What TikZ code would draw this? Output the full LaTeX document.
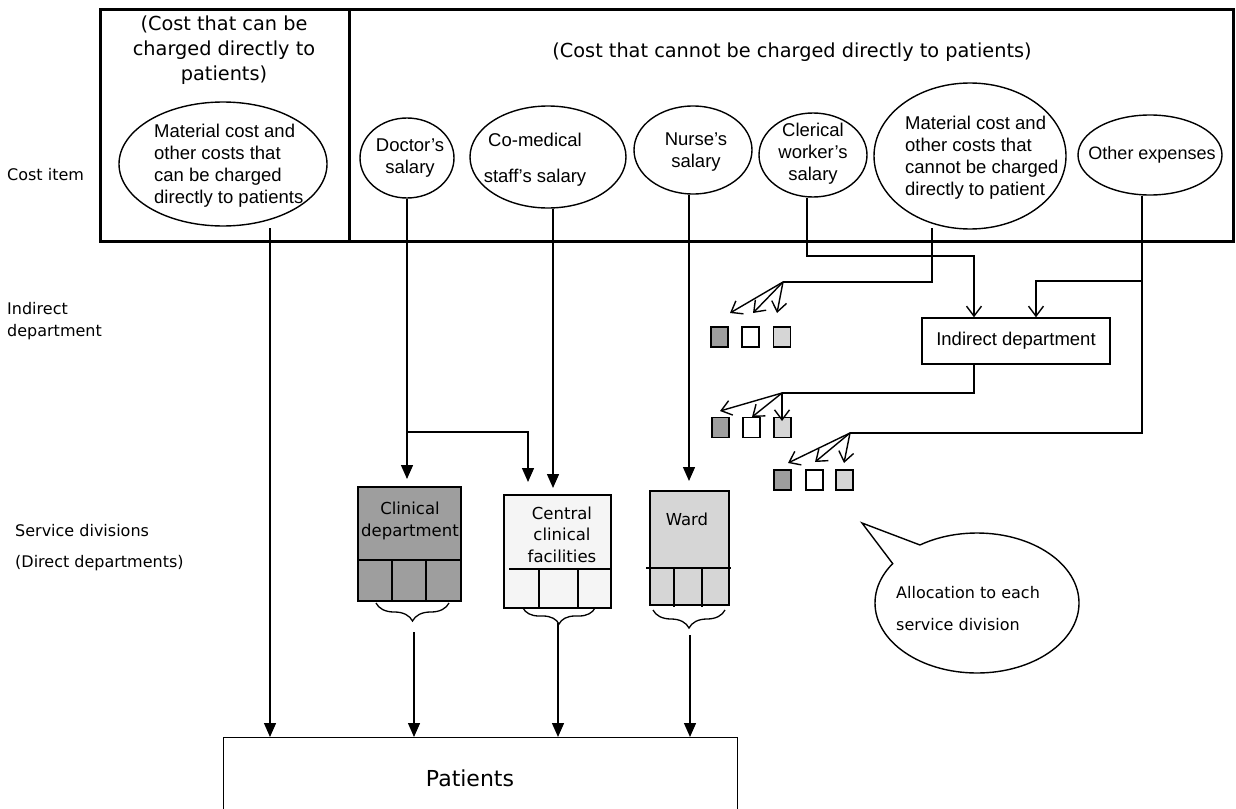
\documentclass[tikz,border=0pt]{standalone}
\usepackage{fontspec}
\setmainfont{DejaVu Sans}
\newfontfamily\arialf{Liberation Sans}
\usetikzlibrary{arrows.meta,shapes.geometric,decorations.pathreplacing}
\definecolor{dkg}{gray}{0.62}
\definecolor{ltg}{gray}{0.84}
\definecolor{vlg}{gray}{0.96}
\begin{document}
\begin{tikzpicture}[x=1pt,y=-1pt,
  ln/.style={line width=1.4pt},
  arr/.style={ln,-{Triangle[width=12pt,length=14pt]}},
  oarr/.style={ln,-{Straight Barb[width=15pt,length=10pt,line width=1.4pt]}},
  ell/.style={draw,ellipse,line width=1.4pt,inner sep=0pt},
  ar/.style={font=\arialf\fontsize{18.5}{22}\selectfont,align=center,inner sep=0pt},
  lab/.style={font=\fontsize{16}{22}\selectfont,anchor=west,inner sep=0pt,align=left},
  sq/.style={draw,line width=1.3pt,minimum width=17pt,minimum height=20pt,inner sep=0pt},
  dept/.style={draw,line width=1.6pt,inner sep=0pt,anchor=north west},
  dtxt/.style={font=\fontsize{16.5}{21.5}\selectfont,align=center,inner sep=0pt},
  brc/.style={line width=1.3pt,decorate,decoration={brace,mirror,amplitude=18pt}},
  hdr/.style={font=\fontsize{19.3}{25}\selectfont,align=center,inner sep=0pt}
]
\useasboundingbox (0,0) rectangle (1236,808);
\clip (0,0) rectangle (1236,808);

% outer boxes
\node[draw,line width=2.6pt,anchor=north west,minimum width=249pt,minimum height=232pt,inner sep=0pt] (lbox) at (99,8) {};
\node[draw,line width=2.6pt,anchor=north west,minimum width=884pt,minimum height=232pt,inner sep=0pt] (rbox) at (348,8) {};

% headers
\node[hdr] (hl) at (224,50) {(Cost that can be\\charged directly to\\patients)};
\node[hdr] (hr) at (792,52) {(Cost that cannot be charged directly to patients)};

% left labels
\node[lab] (lc) at (7,175) {Cost item};
\node[lab] (li) at (7,321) {Indirect\\department};
\node[lab,font=\fontsize{16}{31}\selectfont] (ls) at (15,547.5) {Service divisions\\(Direct departments)};

% ellipses
\node[ell,minimum width=208pt,minimum height=124pt] (e0) at (223,164) {};
\node[ar,anchor=west,align=left] (t0) at (154,166) {Material cost and\\other costs that\\can be charged\\directly to patients};
\node[ell,minimum width=94pt,minimum height=80pt] (e1) at (407,158) {};
\node[ar] (t1) at (410,158) {Doctor’s\\salary};
\node[ell,minimum width=156pt,minimum height=102pt] (e2) at (548,157) {};
\node[ar] (t2) at (535,160) {Co-medical\\[14pt]staff’s salary};
\node[ell,minimum width=118pt,minimum height=88pt] (e3) at (693,150) {};
\node[ar] (t3) at (696,152) {Nurse’s\\salary};
\node[ell,minimum width=108pt,minimum height=84pt] (e4) at (813,155) {};
\node[ar] (t4) at (813,154) {Clerical\\worker’s\\salary};
\node[ell,minimum width=192pt,minimum height=146pt] (e5) at (970,156) {};
\node[ar,anchor=west,align=left] (t5) at (905,158) {Material cost and\\other costs that\\cannot be charged\\directly to patient};
\node[ell,minimum width=144pt,minimum height=80pt] (e6) at (1150,155) {};
\node[ar,font=\arialf\fontsize{18}{22}\selectfont] (t6) at (1152,155) {Other expenses};

% indirect department
\node[draw,line width=1.4pt,minimum width=188pt,minimum height=46pt,ar] (ind) at (1016,341) {Indirect department};

% service divisions
\node[dept,fill=dkg,minimum width=103pt,minimum height=114pt] (clin) at (357,486) {};
\node[dept,fill=vlg,minimum width=107pt,minimum height=113pt] (cent) at (503,494) {};
\node[dept,fill=ltg,minimum width=79pt,minimum height=114pt] (ward) at (649,490) {};
\draw[ln] (357,560) -- (460,560) (392,560) -- (392,600) (426,560) -- (426,600);
\draw[ln] (509,569) -- (610,569) (539,569) -- (539,607) (578,569) -- (578,607);
\draw[ln] (646,568) -- (731,568) (674,568) -- (674,607) (702,568) -- (702,607);
\node[dtxt] (tc) at (410,521) {Clinical\\department};
\node[dtxt] (tce) at (562,534.5) {Central\\clinical\\facilities};
\node[dtxt] (tw) at (687,519) {Ward};

% braces
\draw[brc] (376,603) -- (449,603);
\draw[brc,decoration={brace,mirror,amplitude=16pt}] (523,608) -- (595,608);
\draw[brc] (653,610) -- (725,610);

% patients
\node[draw,line width=1.4pt,anchor=north west,minimum width=514pt,minimum height=100pt,inner sep=0pt] (pat) at (223,737) {};
\node[font=\fontsize{22}{26}\selectfont,inner sep=0pt] (pt) at (470,778) {Patients};

% small squares
\node[sq,fill=dkg] (s11) at (719.5,337) {};
\node[sq,fill=white] (s12) at (750.5,337) {};
\node[sq,fill=ltg] (s13) at (782,337) {};
\node[sq,fill=dkg] (s21) at (720.5,427.5) {};
\node[sq,fill=white] (s22) at (751.5,427.5) {};
\node[sq,fill=ltg] (s23) at (782.5,427.5) {};
\node[sq,fill=dkg] (s31) at (782.5,480) {};
\node[sq,fill=white] (s32) at (814.5,480) {};
\node[sq,fill=ltg] (s33) at (844.5,480) {};

% coordinates
\coordinate (yb) at (0,432);
\coordinate (cbx) at (528,0);
\coordinate (x2) at (553,0);
\coordinate (x3) at (689,0);
\coordinate (c4) at (807,256);
\coordinate (c4b) at (974,256);
\coordinate (m5) at (932,228);
\coordinate (m5b) at (932,282);
\coordinate (o1) at (783,282);
\coordinate (c6) at (1142,433);
\coordinate (c6b) at (1142,281);
\coordinate (c6c) at (1036,281);
\coordinate (o3) at (850,433);
\coordinate (c7) at (974,393);
\coordinate (o2) at (782,393);
\coordinate (a0) at (270,228);
\coordinate (b1) at (414,632);
\coordinate (b2) at (558,623);
\coordinate (b3) at (690,635);
\coordinate (t11) at (730,313);
\coordinate (t12) at (753,313);
\coordinate (t13) at (777,313);
\coordinate (t21) at (720,411);
\coordinate (t22) at (752,417);
\coordinate (t23) at (782,421);
\coordinate (t31) at (788,463);
\coordinate (t32) at (815,462);
\coordinate (t33) at (844,463);

% connectors
\draw[arr] (a0) -- (a0 |- pat.north);
\draw[arr,shorten >=7pt] (e1.south) -- (e1.south |- clin.north);
\draw[arr,shorten >=12pt] (e1.south |- yb) -| (cbx |- cent.north);
\draw[arr,shorten >=6pt] (e2.south -| x2) -- (x2 |- cent.north);
\draw[arr,shorten >=9pt] (e3.south -| x3) -- (x3 |- ward.north);
\draw[oarr] (e4.south -| c4) -- (c4) -- (c4b) -- (c4b |- ind.north);
\draw[ln] (m5) -- (m5b) -- (o1);
\draw[ln] (e6.south -| c6) -- (c6) -- (o3);
\draw[oarr] (c6b) -- (c6c) -- (c6c |- ind.north);
\draw[ln] (ind.south -| c7) -- (c7) -- (o2);
\foreach \o/\t in {o1/t11,o1/t12,o1/t13,o2/t21,o2/t22,o2/t23,o3/t31,o3/t32,o3/t33}
  \draw[oarr] (\o) -- (\t);
\draw[arr] (b1) -- (b1 |- pat.north);
\draw[arr] (b2) -- (b2 |- pat.north);
\draw[arr] (b3) -- (b3 |- pat.north);

% speech bubble
\node[draw,ellipse,line width=1.4pt,fill=white,minimum width=204pt,minimum height=140pt] (bub) at (977,603) {};
\fill[white] (862,523) -- (893,564) -- (912,566) -- (920,545) -- cycle;
\draw[line width=1.4pt,line join=miter] (893,564) -- (862,523) -- (920,545);
\node[lab,font=\fontsize{16}{32}\selectfont] (bt) at (896,609) {Allocation to each\\service division};
\end{tikzpicture}
\end{document}
